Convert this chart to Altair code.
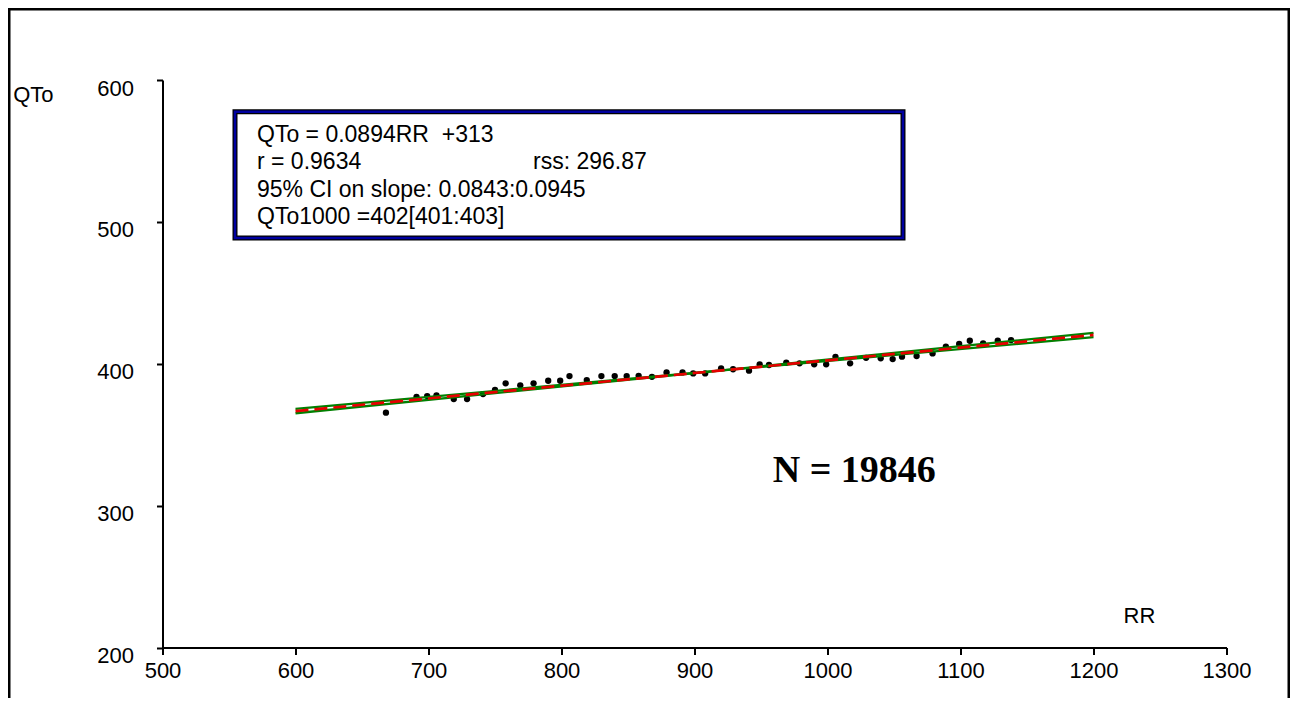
import altair as alt
import pandas as pd

# ---- data ----
rr = [668, 691, 699, 706, 719, 729, 741, 750, 758, 769, 779, 790, 799, 806,
      819, 830, 840, 849, 858, 868, 879, 891, 899, 908, 920, 929, 941, 949,
      956, 969, 979, 990, 999, 1006, 1017, 1029, 1040, 1049, 1056, 1067,
      1079, 1089, 1099, 1107, 1117, 1128, 1138]
qto = [365.5, 376.7, 377.2, 377.7, 375.1, 375.1, 378.6, 381.5, 386.2, 384.8,
       386.2, 388.0, 388.0, 391.3, 388.5, 391.3, 391.3, 391.3, 391.5, 390.8,
       393.9, 393.9, 393.2, 393.2, 396.8, 396.1, 395.1, 399.6, 399.1, 400.7,
       400.3, 399.6, 399.6, 404.9, 400.3, 404.2, 403.8, 403.3, 405.0, 405.4,
       407.3, 412.0, 413.9, 416.2, 414.4, 416.2, 416.7]

line_x = [600, 1200]
fit_y = [366.6, 420.3]          # QTo = 0.0894RR + 313
slope_hi_y = [365.1, 421.8]     # slope 0.0945
slope_lo_y = [368.2, 418.8]     # slope 0.0843

x_ticks = [500, 600, 700, 800, 900, 1000, 1100, 1200, 1300]
y_ticks = [200, 300, 400, 500, 600]

box_lines = ["QTo = 0.0894RR\u00a0 +313", "r = 0.9634",
             "95% CI on slope: 0.0843:0.0945", "QTo1000 =402[401:403]"]
rss_text = "rss: 296.87"
n_text = "N = 19846"

FONT = "Liberation Sans"

pts = pd.DataFrame({"RR": rr, "QTo": qto})
ci = pd.DataFrame({
    "RR": line_x + line_x,
    "QTo": slope_hi_y + slope_lo_y,
    "line": ["hi"] * len(line_x) + ["lo"] * len(line_x),
})
fit = pd.DataFrame({"RR": line_x, "QTo": fit_y})
one = pd.DataFrame({"a": [0]})

xscale = alt.Scale(domain=[500, 1300], nice=False, zero=False)
yscale = alt.Scale(domain=[200, 600], nice=False, zero=False)

xaxis = alt.Axis(values=x_ticks, title="RR", grid=False, titleAngle=0, format="d",
                 titleAlign="center", titleBaseline="alphabetic", labelFlush=False,
                 titleX=976.5, titleY=-25.5, tickSize=7, labelPadding=6)
yaxis = alt.Axis(values=y_ticks, title="QTo", grid=False, titleAngle=0, format="d",
                 titleAlign="left", titleBaseline="alphabetic", labelFlush=False,
                 titleX=-149.8, titleY=21.7, tickSize=6, labelPadding=23,
                 labelBaseline="alphabetic", labelOffset=15)

frame = alt.Chart(one).mark_rect(filled=False, stroke="black", strokeWidth=2.5).encode(
    x=alt.value(-153.25), x2=alt.value(1126.25),
    y=alt.value(-70.75), y2=alt.value(640))

box_outer = alt.Chart(one).mark_rect(fill="white", stroke="black", strokeWidth=5).encode(
    x=alt.value(72.5), x2=alt.value(740.5), y=alt.value(31.7), y2=alt.value(158))
box_inner = alt.Chart(one).mark_rect(filled=False, stroke="#0000a0", strokeWidth=2.5).encode(
    x=alt.value(72.5), x2=alt.value(740.5), y=alt.value(31.7), y2=alt.value(158))

box_text = alt.Chart(one).mark_text(
    align="left", baseline="alphabetic", font=FONT, fontSize=23,
    lineHeight=27.5, color="black").encode(
    x=alt.value(94.5), y=alt.value(61.7), text=alt.value(box_lines))

rss = alt.Chart(one).mark_text(
    align="left", baseline="alphabetic", font=FONT, fontSize=23, color="black").encode(
    x=alt.value(370.5), y=alt.value(89.2), text=alt.value(rss_text))

n_label = alt.Chart(one).mark_text(
    align="left", baseline="alphabetic", font="Liberation Serif", fontSize=38,
    fontWeight="bold", color="black").encode(
    x=alt.value(610.2), y=alt.value(401.7), text=alt.value(n_text))

points = alt.Chart(pts).mark_point(filled=True, color="black", size=40, opacity=1).encode(
    x=alt.X("RR:Q", scale=xscale, axis=xaxis),
    y=alt.Y("QTo:Q", scale=yscale, axis=yaxis))

ci_lines = alt.Chart(ci).mark_line(color="#008000", strokeWidth=2.3).encode(
    x=alt.X("RR:Q", scale=xscale), y=alt.Y("QTo:Q", scale=yscale), detail="line:N")

fit_line = alt.Chart(fit).mark_line(color="#e60000", strokeWidth=2.7, strokeDash=[13, 6]).encode(
    x=alt.X("RR:Q", scale=xscale), y=alt.Y("QTo:Q", scale=yscale))

chart = alt.layer(frame, box_outer, box_inner, box_text, rss, points, ci_lines, fit_line, n_label).properties(
    width=1064, height=567.5,
    autosize=alt.AutoSizeParams(type="none"),
    padding={"left": 154.5, "top": 72, "right": 63.5, "bottom": 50.5},
    background="white",
).configure_view(stroke="transparent").configure_axis(
    labelFont=FONT, labelFontSize=22, labelColor="black",
    titleFont=FONT, titleFontSize=22, titleFontWeight="normal", titleColor="black",
    domainColor="black", domainWidth=2, tickColor="black", tickWidth=2,
)

chart.save("out.html", embed_options={"renderer": "svg", "actions": False})
